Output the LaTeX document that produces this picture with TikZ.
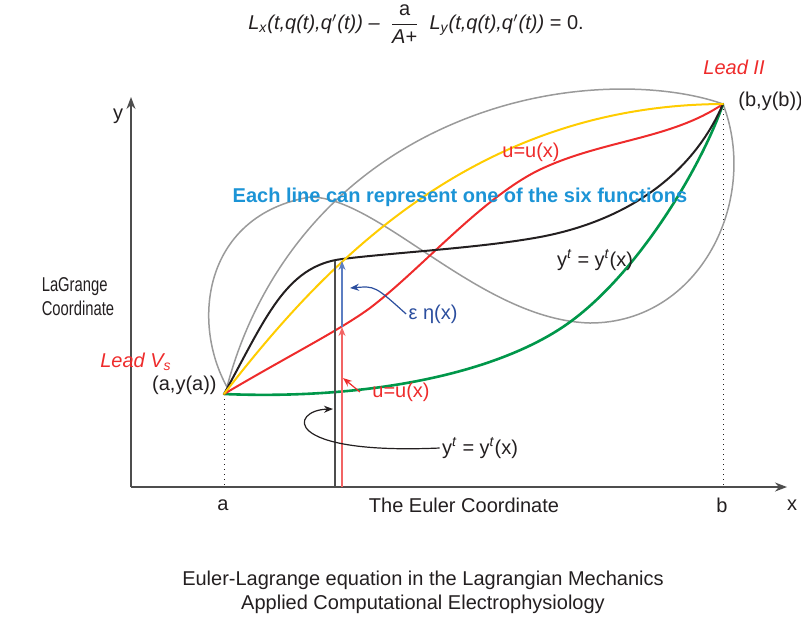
\documentclass[tikz,border=0pt]{standalone}
\usepackage{amsmath}
\usepackage{fontspec}
\setmainfont{Liberation Sans}
\usetikzlibrary{arrows.meta, positioning, calc}

\definecolor{ink}{HTML}{231F20}
\definecolor{loopgray}{HTML}{9A9A9A}
\definecolor{axisgray}{HTML}{4D4D4D}
\definecolor{leadred}{HTML}{EE2B2B}
\definecolor{palered}{HTML}{F26464}
\definecolor{fnyellow}{HTML}{FFCC00}
\definecolor{fngreen}{HTML}{00974A}
\definecolor{fnblue}{HTML}{1C94D6}
\definecolor{etablue}{HTML}{2B4E9E}
\definecolor{paleblue}{HTML}{5C7EC2}

\begin{document}
\begin{tikzpicture}[
  x=0.5pt, y=-0.5pt, >=Stealth,
  txt/.style   = {text=ink, font=\fontsize{10}{12}\selectfont, inner sep=1pt},
  lead/.style  = {text=leadred, font=\fontsize{10}{12}\selectfont\itshape, inner sep=1pt},
  fn/.style    = {line width=1pt, line cap=round},
  gloop/.style = {loopgray, line width=0.75pt},
  axis/.style  = {axisgray, line width=0.75pt, -{Stealth[length=6pt,width=4.5pt]}},
  guide/.style = {ink, line width=0.5pt, dash pattern=on 0.5pt off 2pt},
  tip/.style   = {-{Stealth[length=4.5pt,width=3.5pt]}},
]
\useasboundingbox (0,0) rectangle (801,617);

%── Coordinates ───────────────────────────────────────────────────────────────
\coordinate (origin) at (131,487);
\coordinate (xend)   at (787,487);
\coordinate (yend)   at (131,97);
\coordinate (ptA)    at (224,394);   % (a,y(a))
\coordinate (ptB)    at (723,104);   % (b,y(b))
\coordinate (loopA)  at (227,387);   % gray loops start just above ptA
\coordinate (ybase)  at (335,487);   % y^t pickup at the axis
\coordinate (ytop)   at (335,261);
\coordinate (vbase)  at (342,487);   % u / eta pickup
\coordinate (vred)   at (342,327);
\coordinate (vtop)   at (342,261);
\coordinate (etatip) at (350,288);
\coordinate (utip)   at (343,378);
\coordinate (yttip)  at (333,409);

%── Axes ──────────────────────────────────────────────────────────────────────
\draw[axis] (origin) -- (xend);
\draw[axis] (origin) -- (yend);
\draw[guide] (ptA) -- (ptA |- origin);
\draw[guide] (ptB) -- (ptB |- origin);

%── Gray loops ────────────────────────────────────────────────────────────────
\draw[gloop] (loopA) .. controls (190,320) and (205,215) .. (310,197)
                     .. controls (380,197) and (480,320) .. (590,323)
                     .. controls (700,323) and (760,200) .. (ptB);
\draw[gloop] (loopA) .. controls (255,280) and (330,170) .. (470,117)
                     .. controls (570,79)  and (670,85)  .. (ptB);

%── Six functions ─────────────────────────────────────────────────────────────
\draw[fn, fngreen, line width=1.3pt]
  (ptA) .. controls (370,400) and (500,373) .. (570,322)
        .. controls (640,271) and (702,165) .. (ptB);
\draw[fn, leadred]
  (ptA) .. controls (290,355) and (340,330) .. (370,308)
        .. controls (420,270) and (480,200) .. (537,171)
        .. controls (600,140) and (670,140) .. (ptB);
\draw[fn, ink]
  (ptA) .. controls (265,320) and (285,266) .. (342,259)
        .. controls (400,252) and (480,248) .. (540,237)
        .. controls (620,222) and (690,180) .. (ptB);
\draw[fn, fnyellow]
  (ptA) .. controls (320,270) and (470,105) .. (ptB);

%── Variation arrows ──────────────────────────────────────────────────────────
\draw[axisgray, line width=1pt] (ybase) -- (ytop);
\draw[tip, palered, line width=0.6pt] (vbase) -- (vred);
\draw[tip, paleblue, line width=0.6pt] (vred) -- (vtop);

%── Labels ────────────────────────────────────────────────────────────────────
\node[txt] (eq) at (416,24) {\itshape L\textsubscript{x}(t,q(t),q$'$(t)) --\enspace
  $\dfrac{\text{\upshape a}}{\text{\itshape A+}}$\enspace
  L\textsubscript{y}(t,q(t),q$'$(t)) {\upshape = 0.}};
\node[txt] (ylbl)  at (118,116) {y};
\node[txt] (xlbl)  at (792,505) {x};
\node[txt] (albl)  at (223,505) {a};
\node[txt] (blbl)  at (722,505) {b};
\node[txt] (euler) at (464,505) {The Euler Coordinate};
\node[txt, anchor=west, align=left, xscale=0.74, transform shape] (lagr)
  at (40,297) {LaGrange\\Coordinate};
\node[lead] (leadvs) at (136,362) {Lead V\textsubscript{s}};
\node[lead] (leadii) at (734,67)  {Lead II};
\node[txt, anchor=east] (ptAlbl) at (219,385) {(a,y(a))};
\node[txt, anchor=west] (ptBlbl) at (736,101) {(b,y(b))};
\node[txt, text=fnblue, font=\fontsize{10}{12}\selectfont\bfseries] (six)
  at (460,197) {Each line can represent one of the six functions};
\node[txt, text=leadred] (uup)  at (531,152) {u=u(x)};
\node[txt, text=leadred] (ulow) at (401,392) {u=u(x)};
\node[txt] (ytup)  at (595,260) {y\textsuperscript{\itshape t} = y\textsuperscript{\itshape t}(x)};
\node[txt] (ytlow) at (480,448) {y\textsuperscript{\itshape t} = y\textsuperscript{\itshape t}(x)};
\node[txt, text=etablue] (eta) at (433,314) {ε η(x)};
\node[txt, align=center] (caption) at (423,592)
  {Euler-Lagrange equation in the Lagrangian Mechanics\\
   Applied Computational Electrophysiology};

%── Label arrows ──────────────────────────────────────────────────────────────
\draw[tip, etablue, line width=0.6pt] (eta.west) .. controls (375,286) .. (etatip);
\draw[tip, leadred, line width=0.6pt] ([xshift=-5pt]ulow.west) -- (utip);
\draw[tip, ink, line width=0.6pt] (ytlow.west) .. controls (280,455) and (290,410) .. (yttip);

\end{tikzpicture}
\end{document}
